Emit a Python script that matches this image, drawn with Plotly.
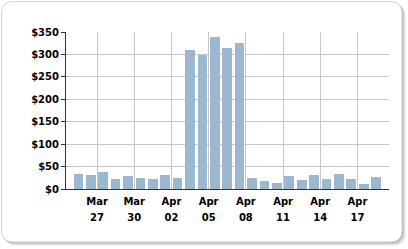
import plotly.graph_objects as go
import pandas as pd

# ---- data ----
dates = pd.date_range("2008-03-25", "2008-04-18", freq="D").strftime("%Y-%m-%d").tolist()
values = [34, 32, 38.5, 23, 29.5, 25, 23, 32, 25, 310, 299.5, 339, 314, 325.5,
          25, 18.5, 14, 29.5, 21, 32, 23, 34, 23, 12, 27]
tick_dates = ["2008-03-27", "2008-03-30", "2008-04-02", "2008-04-05",
              "2008-04-08", "2008-04-11", "2008-04-14", "2008-04-17"]
tick_months = ["Mar", "Mar", "Apr", "Apr", "Apr", "Apr", "Apr", "Apr"]
tick_days = ["27", "30", "02", "05", "08", "11", "14", "17"]
y_ticks = [0, 50, 100, 150, 200, 250, 300, 350]
y_labels = ["$0", "$50", "$100", "$150", "$200", "$250", "$300", "$350"]

# ---- layout geometry (pixels) ----
FW, FH = 408, 249
L, T, W, H = 66, 32, 323, 157
DAY = 86400000


def ux(px):
    return (px - L) / W


def vy(py):
    return (T + H - py) / H


def rrect(x0, y0, x1, y1, r):
    def p(x, y):
        return f"{ux(x):.5f},{vy(y):.5f}"
    return (f"M {p(x0 + r, y0)} L {p(x1 - r, y0)} Q {p(x1, y0)} {p(x1, y0 + r)} "
            f"L {p(x1, y1 - r)} Q {p(x1, y1)} {p(x1 - r, y1)} "
            f"L {p(x0 + r, y1)} Q {p(x0, y1)} {p(x0, y1 - r)} "
            f"L {p(x0, y0 + r)} Q {p(x0, y0)} {p(x0 + r, y0)} Z")


shapes = []
for d, a in [(4, 0.05), (3, 0.07), (2, 0.09), (1, 0.10)]:
    shapes.append(dict(type="path", xref="paper", yref="paper", layer="below",
                       path=rrect(1 + d, 1 + d, 402 + d, 242 + d, 12),
                       fillcolor=f"rgba(0,0,0,{a})", line=dict(width=0)))
shapes.append(dict(type="path", xref="paper", yref="paper", layer="below",
                   path=rrect(1.5, 1.5, 402, 242, 12),
                   fillcolor="white", line=dict(color="#d2d2d2", width=1)))

font = dict(family="DejaVu Sans", size=10, color="#000000", weight="bold")
xrange = ["2008-03-24 12:00", "2008-04-19 13:00"]

fig = go.Figure()
fig.add_trace(go.Bar(x=dates, y=values, xperiod=DAY, xperiodalignment="middle",
                     width=0.78 * DAY, marker=dict(color="#9cb7d0", line=dict(width=0)),
                     hoverinfo="skip"))
fig.add_trace(go.Scatter(x=[xrange[0]], y=[0], xaxis="x2", mode="markers",
                         marker=dict(opacity=0), showlegend=False, hoverinfo="skip"))

fig.update_layout(
    width=FW, height=FH,
    margin=dict(l=L, r=FW - L - W, t=T, b=FH - T - H),
    paper_bgcolor="white", plot_bgcolor="rgba(0,0,0,0)",
    showlegend=False, shapes=shapes, bargap=0,
    xaxis=dict(type="date", range=xrange, tickmode="array", tickvals=tick_dates,
               ticktext=tick_months, ticks="", showgrid=True, gridcolor="#c8c8c8",
               gridwidth=1, showline=True, linecolor="#333333", linewidth=1,
               tickfont=font, ticklabelstandoff=3, zeroline=False),
    xaxis2=dict(type="date", range=xrange, overlaying="x", anchor="y", side="bottom",
                tickmode="array", tickvals=tick_dates, ticktext=tick_days, ticks="",
                showgrid=False, showline=False, tickfont=font, ticklabelstandoff=21,
                zeroline=False),
    yaxis=dict(range=[0, 350], tickmode="array", tickvals=y_ticks, ticktext=y_labels,
               ticks="outside", ticklen=4, tickcolor="#333333", showgrid=True,
               gridcolor="#c8c8c8", gridwidth=1, showline=True, linecolor="#333333",
               linewidth=1, tickfont=font, zeroline=False),
)

fig.write_html("out.html")
